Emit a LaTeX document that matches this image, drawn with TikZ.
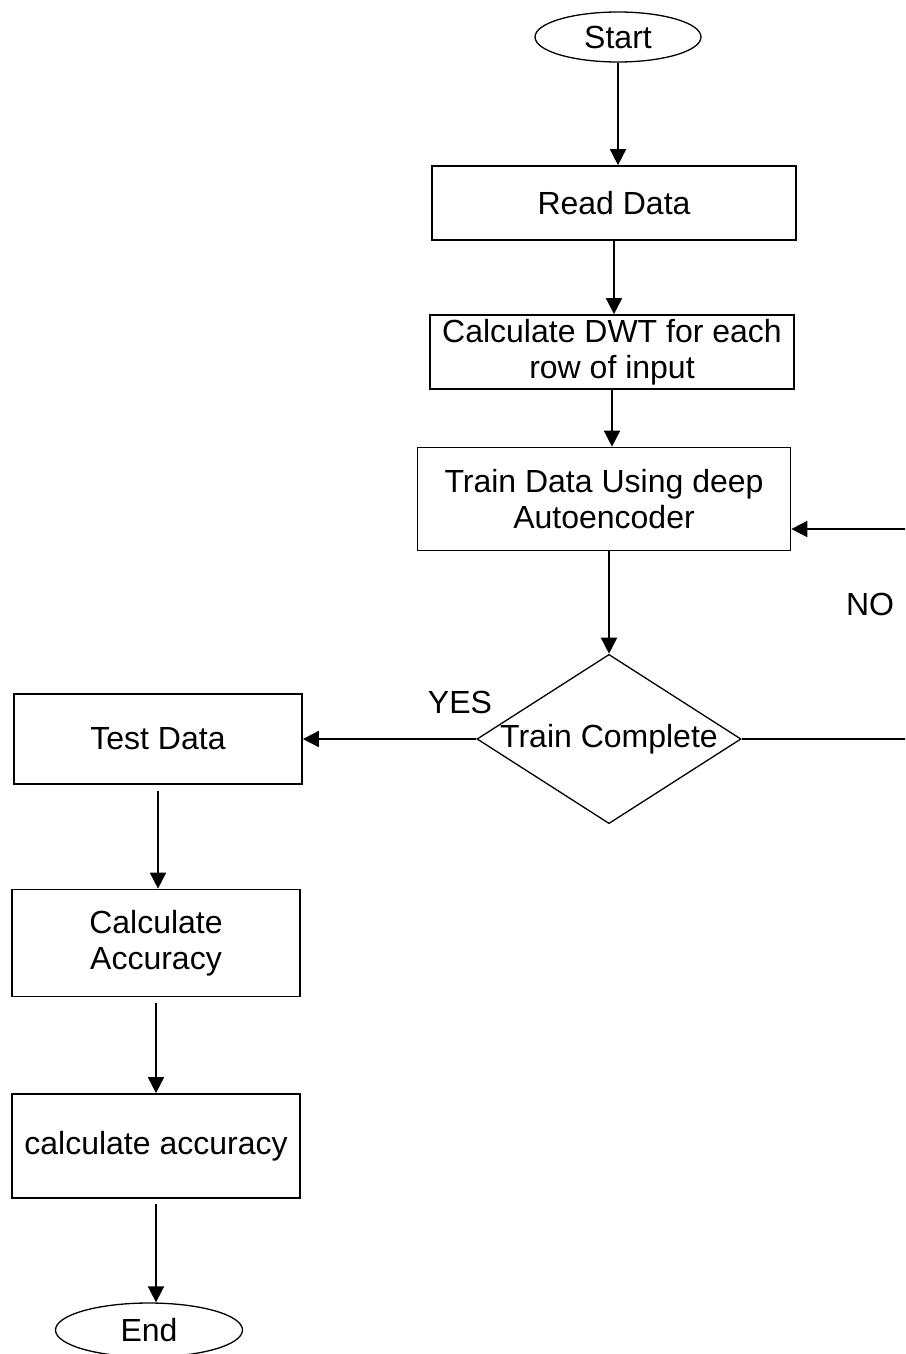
\documentclass[tikz,border=0pt]{standalone}
\usepackage{fontspec}
\setmainfont{Liberation Sans}
\usetikzlibrary{shapes.geometric,arrows.meta}
\begin{document}
\begin{tikzpicture}[x=1pt,y=-1pt,
    txt/.style={font=\fontsize{32}{36}\selectfont},
    box/.style={txt,draw,line width=1.7pt,inner sep=0pt,align=center},
    term/.style={txt,draw,ellipse,line width=1.3pt,inner sep=0pt},
    flow/.style={line width=1.7pt,-{Triangle[length=16pt,width=16pt]}}]
  \useasboundingbox (0,0) rectangle (905,1354);
  \clip (0,0) rectangle (905,1354);
  \draw
    (618,37) node[term,minimum width=166pt,minimum height=50pt] (start){Start}
    (614,203) node[box,minimum width=364pt,minimum height=74pt] (read){Read Data}
    (612,352) node[box,minimum width=364pt,minimum height=74pt] (dwt){Calculate DWT for each\\row of input}
    (604,499) node[box,minimum width=373pt,minimum height=103pt] (train){Train Data Using deep\\Autoencoder}
    (609,739) node[txt,draw,diamond,shape aspect=1.56,line width=1.3pt,inner sep=0pt,
                   minimum width=262pt,minimum height=168pt] (dec){Train Complete}
    (158,739) node[box,minimum width=288pt,minimum height=90pt] (test){Test Data}
    (156,943) node[box,minimum width=288pt,minimum height=107pt] (calc){Calculate\\Accuracy}
    (156,1146) node[box,minimum width=288pt,minimum height=104pt] (acc){calculate accuracy}
    (149,1330) node[term,minimum width=187pt,minimum height=54pt] (end){End}
    (460,702) node[txt] (yes){YES}
    (870,604) node[txt] (no){NO};
  \coordinate (loop) at (960,739);
  \begin{scope}[flow]
    \draw (start) -- (start |- read.north);
    \draw (read) -- (read |- dwt.north);
    \draw (dwt) -- (dwt |- train.north);
    \draw (dec |- train.south) -- (dec);
    \draw (dec) -- (dec -| test.east);
    \draw (dec) -- (loop) |- ([yshift=-30pt]train.east);
    \draw[shorten <=6pt] (test) -- (test |- calc.north);
    \draw[shorten <=6pt] (calc) -- (calc |- acc.north);
    \draw[shorten <=5pt] (acc) -- (acc |- end.north);
  \end{scope}
\end{tikzpicture}
\end{document}
